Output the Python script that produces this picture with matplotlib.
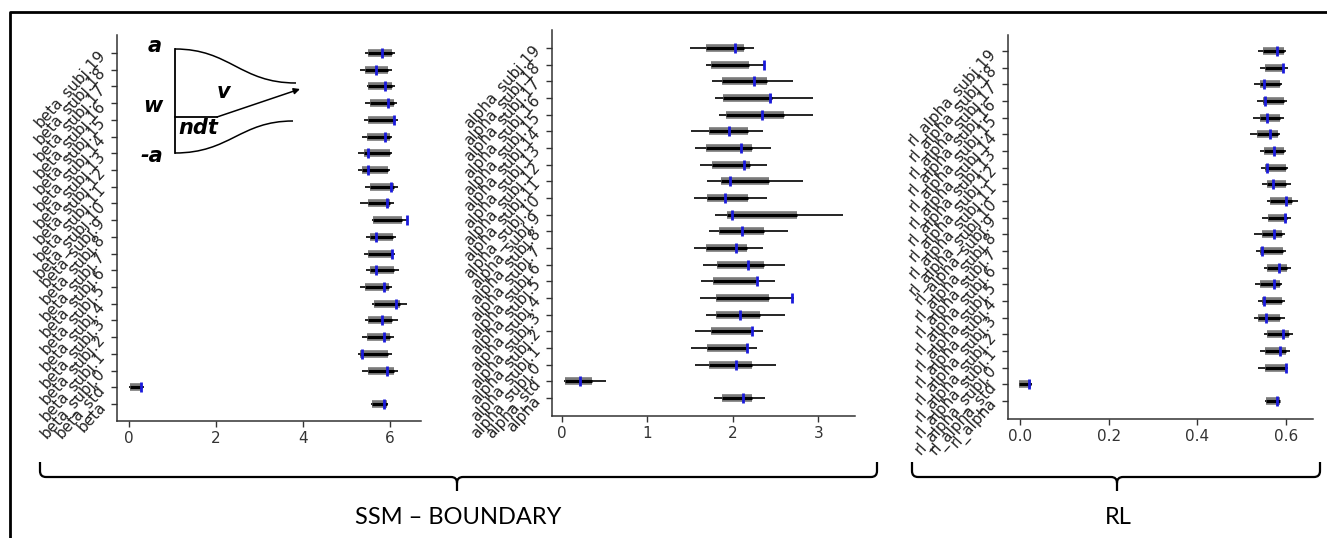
import numpy as np
import matplotlib
matplotlib.use('Agg')
import matplotlib.pyplot as plt
from matplotlib.path import Path
from matplotlib.patches import PathPatch

W, H = 1327, 538

# Posterior summaries, ordered bottom to top: group mean, group std, subjects 0..19
n_subj = 20
beta_labels = ['beta', 'beta_std'] + [f'beta_subj.{i}' for i in range(n_subj)]
beta_hdi_lo = [5.56, 0.00, 5.35, 5.25, 5.35, 5.43, 5.58, 5.31, 5.45, 5.39, 5.45, 5.58,
               5.31, 5.43, 5.25, 5.25, 5.35, 5.39, 5.43, 5.46, 5.31, 5.43]
beta_hdi_hi = [5.94, 0.33, 6.18, 6.04, 6.08, 6.18, 6.38, 6.04, 6.21, 6.11, 6.14, 6.40,
               6.08, 6.18, 6.00, 6.04, 6.04, 6.17, 6.15, 6.11, 6.04, 6.11]
beta_q_lo = [5.58, 0.02, 5.50, 5.31, 5.46, 5.50, 5.62, 5.43, 5.54, 5.50, 5.54, 5.60,
             5.50, 5.54, 5.35, 5.39, 5.46, 5.50, 5.54, 5.50, 5.43, 5.50]
beta_q_hi = [5.92, 0.29, 6.08, 5.96, 6.00, 6.04, 6.23, 5.98, 6.08, 6.04, 6.06, 6.27,
             6.00, 6.08, 5.96, 6.00, 6.00, 6.11, 6.08, 6.04, 5.96, 6.04]
beta_mean = [5.85, 0.28, 5.92, 5.35, 5.85, 5.81, 6.13, 5.85, 5.68, 6.05, 5.67, 6.38,
             5.92, 6.02, 5.50, 5.50, 5.88, 6.10, 5.95, 5.88, 5.67, 5.81]

alpha_labels = ['alpha', 'alpha_std'] + [f'alpha_subj.{i}' for i in range(n_subj)]
alpha_hdi_lo = [1.78, 0.02, 1.56, 1.51, 1.56, 1.69, 1.61, 1.63, 1.65, 1.55, 1.72, 1.79,
                1.55, 1.70, 1.61, 1.56, 1.51, 1.84, 1.79, 1.76, 1.68, 1.50]
alpha_hdi_hi = [2.38, 0.51, 2.51, 2.28, 2.35, 2.61, 2.72, 2.49, 2.61, 2.35, 2.64, 3.29,
                2.40, 2.82, 2.40, 2.45, 2.35, 2.94, 2.94, 2.70, 2.36, 2.25]
alpha_q_lo = [1.875, 0.04, 1.72, 1.70, 1.74, 1.80, 1.80, 1.77, 1.82, 1.68, 1.84, 1.93,
              1.70, 1.86, 1.76, 1.68, 1.72, 1.92, 1.89, 1.875, 1.75, 1.68]
alpha_q_hi = [2.23, 0.35, 2.23, 2.17, 2.21, 2.32, 2.42, 2.27, 2.36, 2.16, 2.36, 2.75,
              2.18, 2.42, 2.20, 2.23, 2.18, 2.60, 2.46, 2.40, 2.19, 2.13]
alpha_mean = [2.12, 0.21, 2.04, 2.17, 2.23, 2.08, 2.69, 2.285, 2.18, 2.04, 2.11, 1.99,
              1.91, 1.97, 2.13, 2.10, 1.96, 2.34, 2.43, 2.25, 2.36, 2.03]

rl_labels = ['rl_alpha', 'rl_alpha_std'] + [f'rl_alpha_subj.{i}' for i in range(n_subj)]
rl_hdi_lo = [0.553, -0.002, 0.537, 0.541, 0.551, 0.527, 0.537, 0.531, 0.551, 0.533, 0.527, 0.547,
             0.557, 0.547, 0.544, 0.541, 0.519, 0.525, 0.535, 0.527, 0.541, 0.537]
rl_hdi_hi = [0.587, 0.028, 0.604, 0.608, 0.617, 0.597, 0.597, 0.591, 0.611, 0.601, 0.597, 0.611,
             0.627, 0.611, 0.604, 0.601, 0.587, 0.595, 0.602, 0.591, 0.604, 0.601]
rl_q_lo = [0.556, -0.002, 0.553, 0.553, 0.557, 0.538, 0.546, 0.542, 0.557, 0.542, 0.546, 0.559,
           0.563, 0.557, 0.553, 0.550, 0.535, 0.542, 0.548, 0.542, 0.553, 0.548]
rl_q_hi = [0.586, 0.026, 0.599, 0.599, 0.606, 0.587, 0.591, 0.587, 0.602, 0.593, 0.591, 0.602,
           0.614, 0.599, 0.599, 0.595, 0.583, 0.587, 0.595, 0.587, 0.595, 0.595]
rl_mean = [0.580, 0.021, 0.600, 0.586, 0.593, 0.556, 0.550, 0.574, 0.585, 0.546, 0.574, 0.597,
           0.600, 0.570, 0.557, 0.574, 0.565, 0.557, 0.553, 0.550, 0.593, 0.580]

group_titles = ['SSM \u2013 BOUNDARY', 'RL']

fig = plt.figure(figsize=(W / 100, H / 100), dpi=100)


def forest(rect, labels, hdi_lo, hdi_hi, q_lo, q_hi, mean, xlim, ylim, xticks):
    ax = fig.add_axes(rect)
    y = np.arange(len(labels))
    # 94% interval, interquartile bar, posterior mean
    ax.hlines(y, hdi_lo, hdi_hi, color='black', lw=1.2, zorder=2)
    ax.hlines(y, q_lo, q_hi, color='#7a7a7a', lw=5.5, zorder=3)
    ax.hlines(y, q_lo, q_hi, color='black', lw=2.2, zorder=4)
    ax.plot(mean, y, ls='none', marker='|', color='#1a1adc', ms=7.5, mew=2.0, zorder=5)
    ax.set_xlim(*xlim)
    ax.set_ylim(*ylim)
    ax.set_xticks(xticks)
    ax.set_yticks(y)
    ax.set_yticklabels(labels, rotation=48, ha='right', va='center',
                       rotation_mode='anchor', fontsize=11, color='#222222')
    ax.tick_params(axis='x', labelsize=11, labelcolor='#333333')
    ax.tick_params(axis='y', pad=6)
    ax.tick_params(direction='out', length=4, width=1, color='#333333')
    for side in ['top', 'right']:
        ax.spines[side].set_visible(False)
    for side in ['left', 'bottom']:
        ax.spines[side].set_color('#333333')
        ax.spines[side].set_linewidth(1.1)
    return ax


ax1 = forest([117 / W, 1 - 421 / H, 304 / W, 386 / H], beta_labels, beta_hdi_lo, beta_hdi_hi,
             beta_q_lo, beta_q_hi, beta_mean, (-0.28, 6.71), (-1.02, 22.08), [0, 2, 4, 6])
ax2 = forest([552 / W, 1 - 416 / H, 303 / W, 386 / H], alpha_labels, alpha_hdi_lo, alpha_hdi_hi,
             alpha_q_lo, alpha_q_hi, alpha_mean, (-0.117, 3.43), (-1.08, 22.08), [0, 1, 2, 3])
ax3 = forest([1008 / W, 1 - 419 / H, 305 / W, 384 / H], rl_labels, rl_hdi_lo, rl_hdi_hi,
             rl_q_lo, rl_q_hi, rl_mean, (-0.027, 0.661), (-1.08, 21.96), [0.0, 0.2, 0.4, 0.6])
ax3.set_xticklabels(['0.0', '0.2', '0.4', '0.6'])

# Overlay in pixel units for the frame, the braces and the model sketch
ov = fig.add_axes([0, 0, 1, 1])
ov.set_xlim(0, W)
ov.set_ylim(H, 0)
ov.axis('off')
ov.patch.set_visible(False)

ov.plot([10, 10, W], [H, 12, 12], color='black', lw=2, solid_capstyle='butt')


def brace(x0, x1, xc, yt=462, yl=477, yb=491, r=6):
    verts = [(x0, yt), (x0, yl - r), (x0, yl), (x0 + r, yl), (xc - r, yl), (xc, yl), (xc, yl + r),
             (xc, yb),
             (xc, yl + r), (xc, yl), (xc + r, yl), (x1 - r, yl), (x1, yl), (x1, yl - r), (x1, yt)]
    codes = [Path.MOVETO, Path.LINETO, Path.CURVE3, Path.CURVE3, Path.LINETO, Path.CURVE3, Path.CURVE3,
             Path.LINETO,
             Path.MOVETO, Path.CURVE3, Path.CURVE3, Path.LINETO, Path.CURVE3, Path.CURVE3, Path.LINETO]
    ov.add_patch(PathPatch(Path(verts, codes), fill=False, lw=1.6, edgecolor='black'))


brace(40, 877, 457)
brace(912, 1320, 1117)
ov.text(458, 518, group_titles[0], ha='center', va='center', fontsize=17, family='Lato')
ov.text(1118, 518, group_titles[1], ha='center', va='center', fontsize=17, family='Lato')

# Drift diffusion sketch: boundaries, starting point, drift arrow
upper = Path([(175, 49), (230, 49), (240, 83), (296, 83)],
             [Path.MOVETO, Path.CURVE4, Path.CURVE4, Path.CURVE4])
lower = Path([(175, 153), (230, 153), (240, 121), (293, 121)],
             [Path.MOVETO, Path.CURVE4, Path.CURVE4, Path.CURVE4])
ov.add_patch(PathPatch(upper, fill=False, lw=1.1, edgecolor='black'))
ov.add_patch(PathPatch(lower, fill=False, lw=1.1, edgecolor='black'))
ov.plot([175, 175], [49, 153], color='black', lw=1.3)
ov.plot([175, 217], [117, 117], color='black', lw=1.3)
ov.annotate('', xy=(300, 89), xytext=(217, 117),
            arrowprops=dict(arrowstyle='-|>', color='black', lw=1.1, mutation_scale=9,
                            shrinkA=0, shrinkB=0))
sketch_font = dict(fontsize=15, fontweight='heavy', fontstyle='italic', ha='center', va='center')
ov.text(155, 46, 'a', **sketch_font)
ov.text(153, 106, 'w', **sketch_font)
ov.text(224, 92, 'v', **sketch_font)
ov.text(198, 128, 'ndt', **sketch_font)
ov.text(152, 156, '-a', **sketch_font)

plt.savefig('out.png', dpi=100)
